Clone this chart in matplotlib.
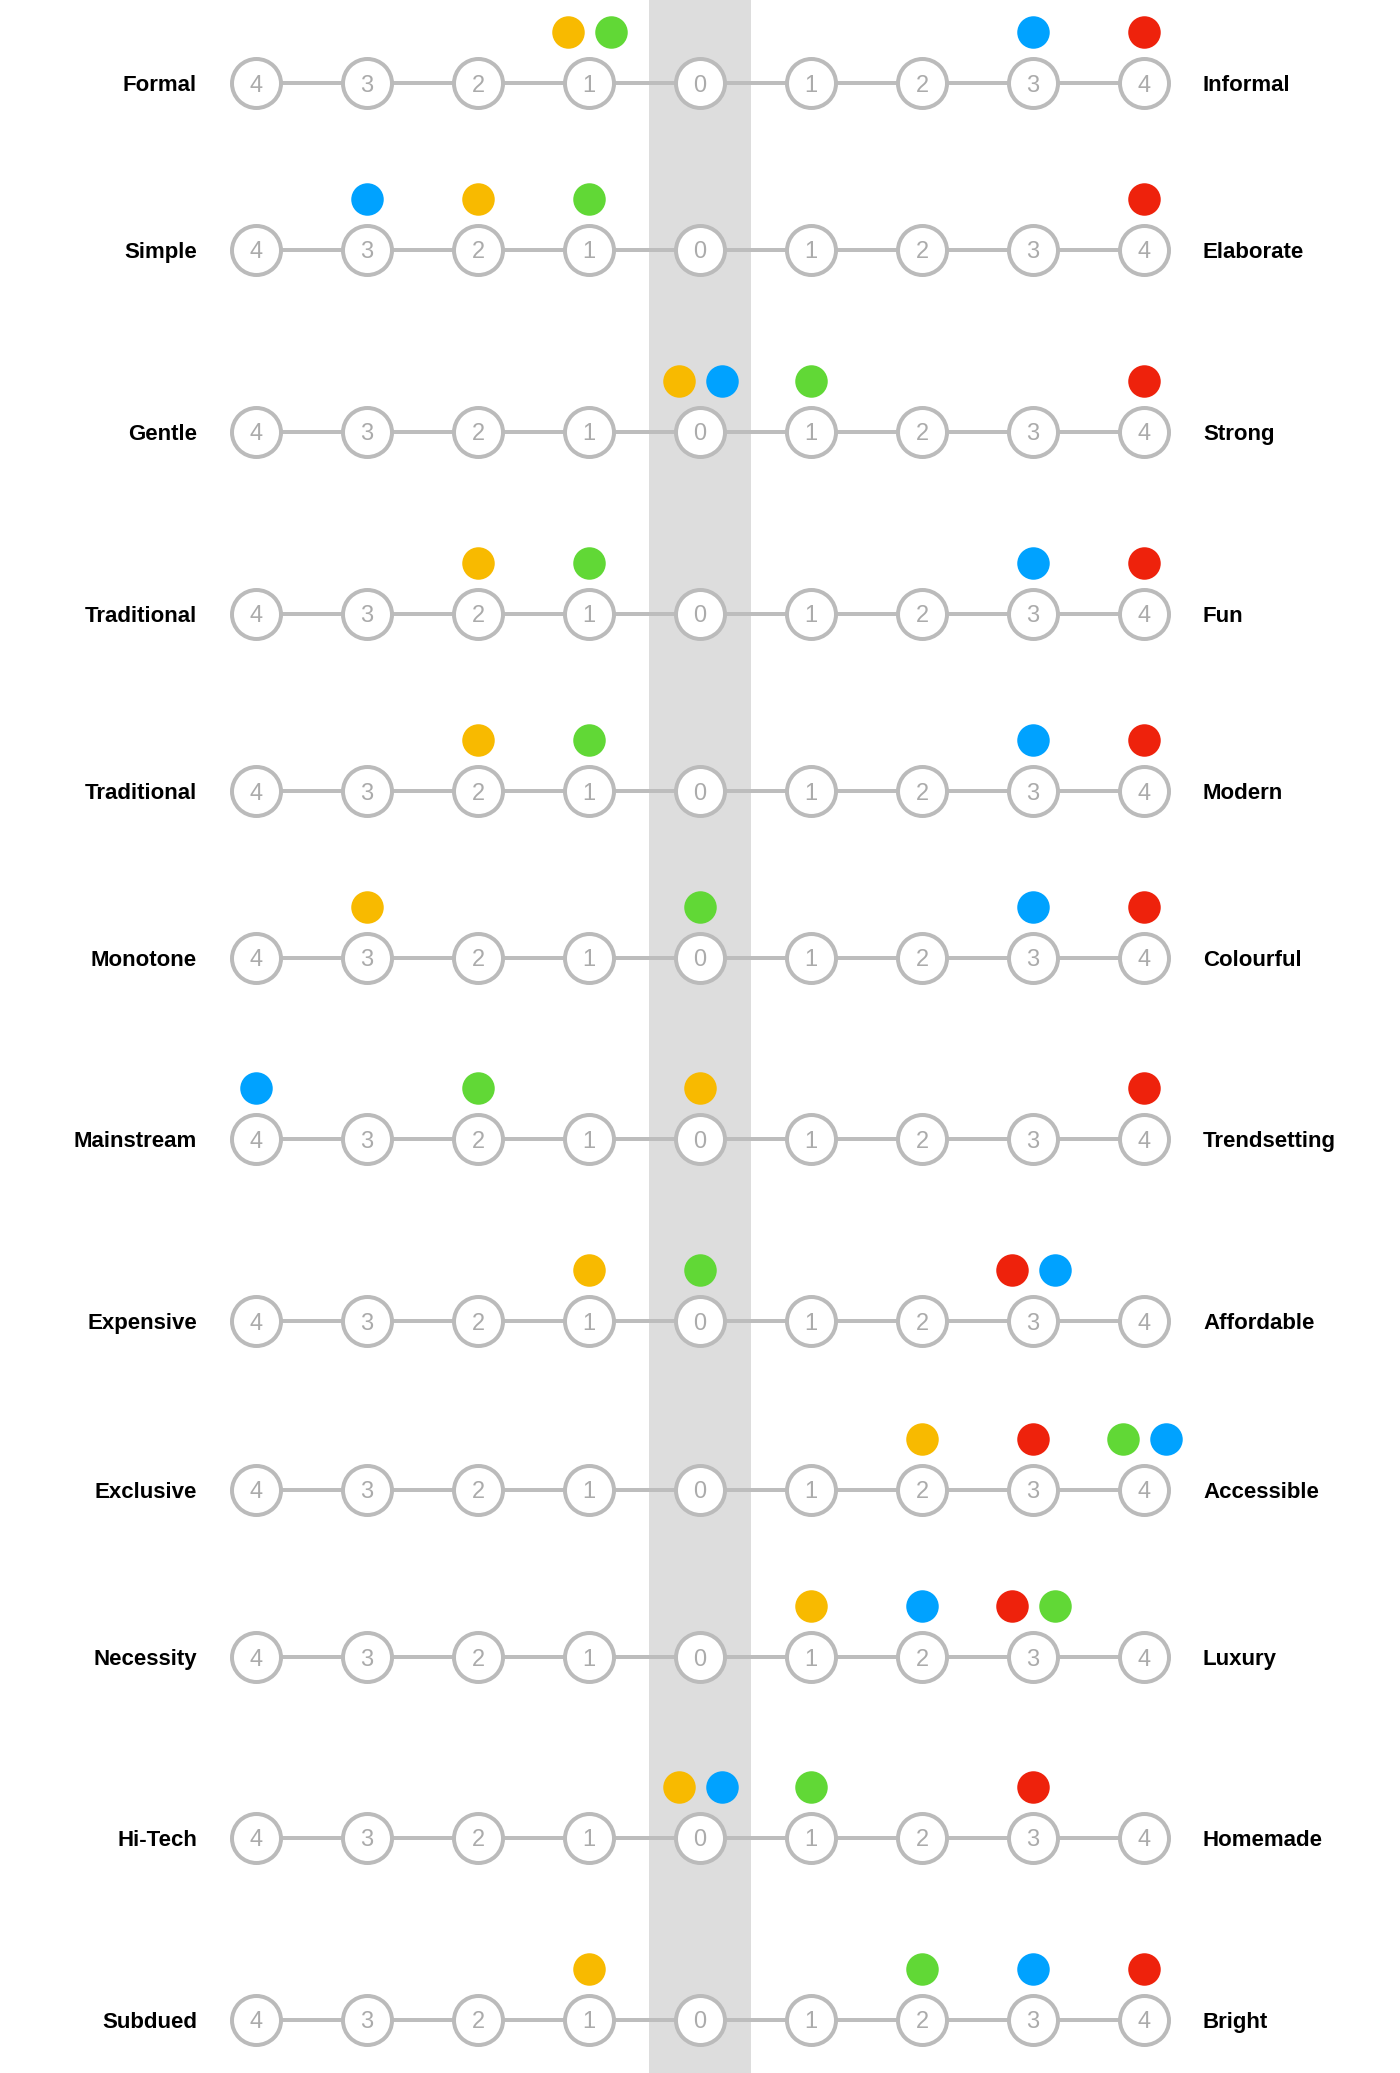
import numpy as np
import matplotlib
matplotlib.use("Agg")
import matplotlib.pyplot as plt

# Scale pairs: left word (negative side) and right word (positive side)
left_labels = ["Formal", "Simple", "Gentle", "Traditional", "Traditional", "Monotone",
               "Mainstream", "Expensive", "Exclusive", "Necessity", "Hi-Tech", "Subdued"]
right_labels = ["Informal", "Elaborate", "Strong", "Fun", "Modern", "Colourful",
                "Trendsetting", "Affordable", "Accessible", "Luxury", "Homemade", "Bright"]

# Ratings of each series on every scale (-4 = fully left word, +4 = fully right word)
orange = [-1, -2, 0, -2, -2, -3, 0, -1, 2, 1, 0, -1]
red = [4, 4, 4, 4, 4, 4, 4, 3, 3, 3, 3, 4]
green = [-1, -1, 1, -1, -1, 0, -2, 0, 4, 3, 1, 2]
blue = [3, -3, 0, 3, 3, 3, -4, 3, 4, 2, 0, 3]

steps = [-4, -3, -2, -1, 0, 1, 2, 3, 4]

# Layout (pixel rows of each scale) and style
row_y = [83, 250, 432, 614, 791, 958, 1139, 1321, 1490, 1657, 1838, 2020]
series = [(orange, "#F8BA00"), (red, "#EE220C"), (green, "#61D836"), (blue, "#00A2FF")]

W, H = 1400, 2073
step_px = 111.0
fig = plt.figure(figsize=(W / 100, H / 100), dpi=100)
ax = fig.add_axes([0, 0, 1, 1])
ax.set_xlim(-700 / step_px, 700 / step_px)
ax.set_ylim(H, 0)
ax.axis("off")

px = 0.72  # points per pixel at 100 dpi

# grey neutral band
ax.axvspan(-0.455, 0.455, color="#DDDDDD", zorder=0, lw=0)

for i, y in enumerate(row_y):
    ax.plot([steps[0], steps[-1]], [y, y], color="#BDBDBD", lw=4 * px, zorder=1,
            solid_capstyle="butt")
    ax.scatter(steps, [y] * len(steps), s=(49 * px) ** 2, facecolor="white",
               edgecolor="#BBBBBB", linewidths=4 * px, zorder=2)
    for s in steps:
        ax.text(s, y + 8.5, str(abs(s)), ha="center", va="baseline", fontsize=17,
                color="#ABABAB", family="Liberation Sans", zorder=3)

    ax.text(-4 - 59 / step_px, y + 8, left_labels[i], ha="right", va="baseline",
            fontsize=16, fontweight="bold", family="Liberation Sans", color="black")
    ax.text(4 + 59 / step_px, y + 8, right_labels[i], ha="left", va="baseline",
            fontsize=16, fontweight="bold", family="Liberation Sans", color="black")

    # group series sharing the same position, side by side
    groups = {}
    for vals, col in series:
        groups.setdefault(vals[i], []).append(col)
    for v, cols in groups.items():
        n = len(cols)
        for j, col in enumerate(cols):
            off = (j - (n - 1) / 2) * 43 / step_px
            ax.scatter([v + off], [y - 51], s=(32.5 * px) ** 2, color=col,
                       linewidths=0, zorder=4)

fig.savefig("out.png", dpi=100, facecolor="white")
